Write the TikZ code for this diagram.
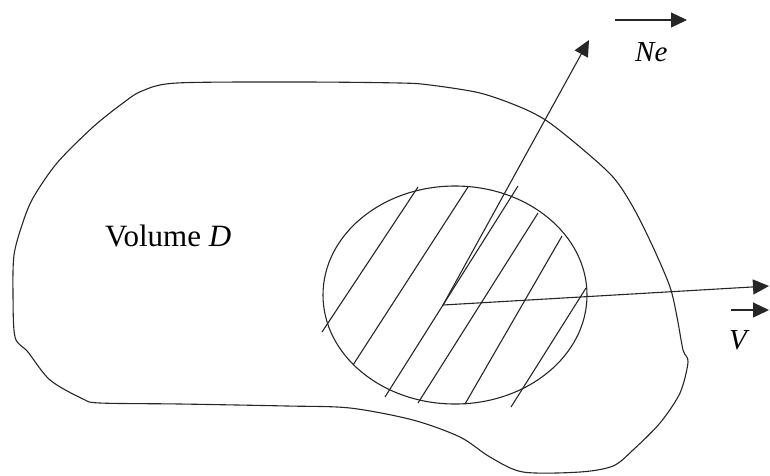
\documentclass[tikz,border=0pt]{standalone}
\usepackage{fontspec}
\setmainfont{Liberation Serif}
\usetikzlibrary{arrows.meta}
\begin{document}
\begin{tikzpicture}[x=1pt,y=-1pt,
  line/.style={line width=1.1pt,black!85},
  vec/.style={line width=1.1pt,black!85,-{Triangle[length=16pt,width=15pt]}},
  lbl/.style={inner sep=0pt,anchor=base west,font=\fontsize{29}{34}\selectfont}]
\useasboundingbox (0,0) rectangle (770,475);
% outer volume
\draw[line] plot[smooth cycle,tension=0.5] coordinates {
 (177,83) (300,82) (400,83) (430,85) (480,93) (520,107) (547,121) (580,147)
 (613,177) (633,207) (653,247) (670,287) (677,317) (683,350) (688,362)
 (680,393) (660,423) (633,450) (613,466) (580,472) (523,472) (490,457)
 (460,437) (413,420) (350,408) (287,406) (180,404) (100,403) (83,399)
 (50,380) (28,352) (15,337) (13,293) (14,255) (22,225) (33,198) (57,163)
 (93,127) (123,103) (142,91)};
% sphere
\draw[line] (455,295) ellipse [x radius=132, y radius=109];
% hatching
\draw[line] (322,332) -- (418,187);
\draw[line] (353,365) -- (468,187);
\draw[line] (385,397) -- (518,186);
\draw[line] (418,403) -- (538,213);
\draw[line] (465,404) -- (562,236);
\draw[line] (511,407) -- (586,288);
% vectors
\coordinate (O) at (443,305);
\coordinate (tipN) at (589,40);
\coordinate (tipV) at (769,286);
\draw[vec] (O) -- (tipN);
\draw[vec] (O) -- (tipV);
% labels
\node[lbl] (ne) at (635,61) {\textit{Ne}};
\coordinate (neA) at (615,20);
\coordinate (neB) at (687,20);
\draw[vec] (neA) -- (neB);
\node[lbl] (v) at (729,349) {\textit{V}};
\coordinate (vA) at (731,310);
\coordinate (vB) at (769,310);
\draw[vec] (vA) -- (vB);
\node[lbl,font=\fontsize{31}{36}\selectfont] (vol) at (105,246) {Volume \textit{D}};
\end{tikzpicture}
\end{document}
